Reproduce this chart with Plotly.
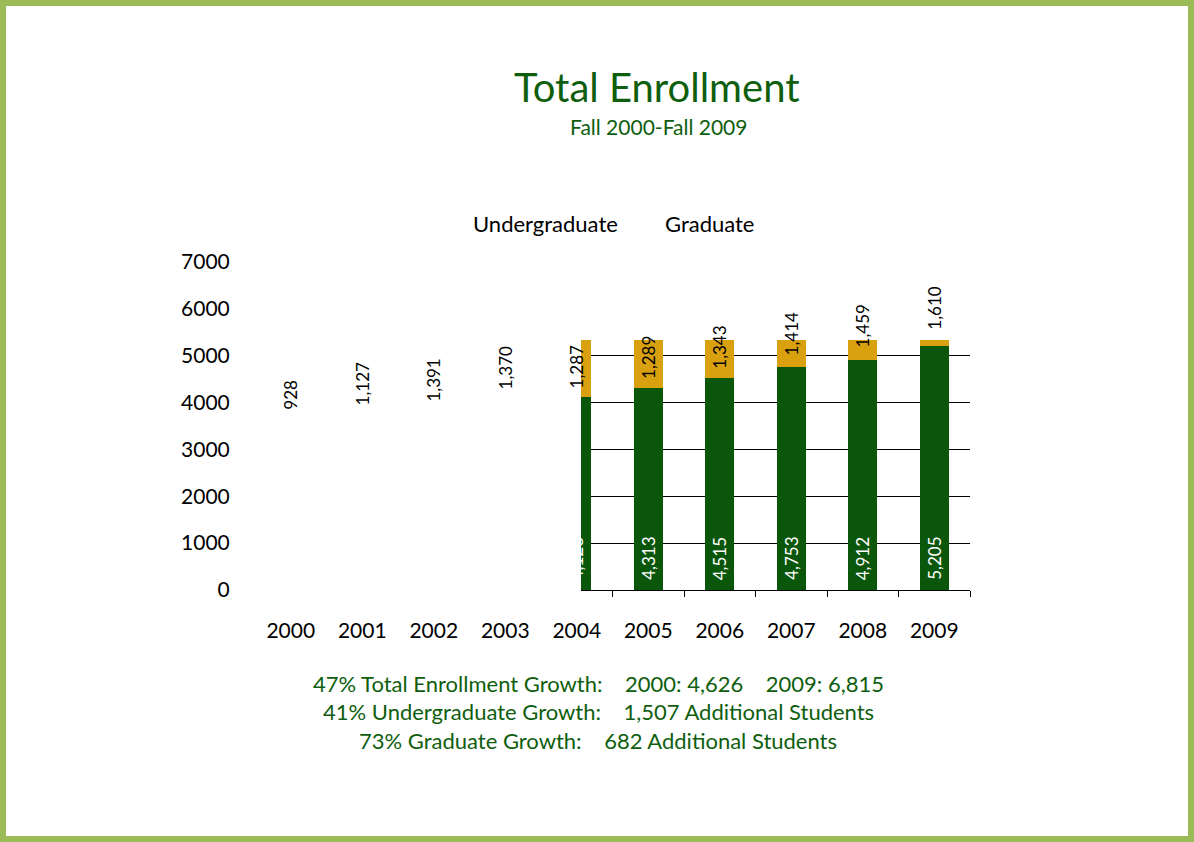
import plotly.graph_objects as go

years = [2000, 2001, 2002, 2003, 2004, 2005, 2006, 2007, 2008, 2009]
undergrad = [3698, 3830, 3790, 4050, 4123, 4313, 4515, 4753, 4912, 5205]
graduate = [928, 1127, 1391, 1370, 1287, 1289, 1343, 1414, 1459, 1610]
ytick_vals = [0, 1000, 2000, 3000, 4000, 5000, 6000, 7000]
title_text = "Total Enrollment"
subtitle_text = "Fall 2000-Fall 2009"
legend_names = ["Undergraduate", "Graduate"]
footer_lines = [
    "47% Total Enrollment Growth:    2000: 4,626    2009: 6,815",
    "41% Undergraduate Growth:    1,507 Additional Students",
    "73% Graduate Growth:    682 Additional Students",
]

GREEN = "#0A560A"
GOLD = "#D9A010"
TEXT_GREEN = "#0E5E0E"
FONT = "Lato"

W, H = 1194, 842
PL, PR, PT, PB = 255, 970, 262, 590  # main plot area in pixels
CLIP_L, CLIP_T = 581, 340            # visible (clipped) chart region
ymax = 7000
xr = [years[0] - 0.5, years[-1] + 0.5]
px_per_year = (PR - PL) / (xr[1] - xr[0])
px_per_unit = (PB - PT) / ymax

x2_dom0 = (CLIP_L - PL) / (PR - PL)
x2_range = [xr[0] + (CLIP_L - PL) / px_per_year, xr[1]]
y2_dom1 = (PB - CLIP_T) / (PB - PT)
y2_range = [0, (PB - CLIP_T) / px_per_unit]

fig = go.Figure()
fig.add_trace(go.Bar(x=years, y=undergrad, name=legend_names[0], marker_color=GREEN,
                     marker_line_width=0, width=0.4, xaxis="x2", yaxis="y2"))
fig.add_trace(go.Bar(x=years, y=graduate, name=legend_names[1], marker_color=GOLD,
                     marker_line_width=0, width=0.4, xaxis="x2", yaxis="y2"))

annotations = []
for yr, u, g in zip(years, undergrad, graduate):
    annotations.append(dict(x=yr, y=0, xref="x", yref="y", text=f"{u:,}", textangle=-90,
                            showarrow=False, xanchor="center", yanchor="bottom", yshift=8,
                            font=dict(family=FONT, size=17, color="white")))
    annotations.append(dict(x=yr, y=u + g / 2, xref="x", yref="y", text=f"{g:,}", textangle=-90,
                            showarrow=False, xanchor="center", yanchor="middle",
                            font=dict(family=FONT, size=17, color="black")))

def px_x(p):
    return (p - PL) / (PR - PL)

def px_y(p):
    return (PB - p) / (PB - PT)

def paper_text(xp, yp, text, size, color):
    return dict(x=px_x(xp), y=px_y(yp), xref="paper", yref="paper", text=text,
                showarrow=False, xanchor="center", yanchor="middle",
                font=dict(family=FONT, size=size, color=color))

annotations.append(paper_text(657, 87, title_text, 40, TEXT_GREEN))
annotations.append(paper_text(658, 126, subtitle_text, 21, TEXT_GREEN))
annotations.append(paper_text(545, 224, legend_names[0], 22, "black"))
annotations.append(paper_text(709, 224, legend_names[1], 22, "black"))
for i, line in enumerate(footer_lines):
    annotations.append(paper_text(598, 683 + 28.5 * i, line, 22, TEXT_GREEN))

bw = 6
shapes = [dict(type="rect", xref="paper", yref="paper",
               x0=px_x(bw / 2), x1=px_x(W - bw / 2), y0=px_y(H - bw / 2), y1=px_y(bw / 2),
               line=dict(color="#9BBB59", width=bw), fillcolor="rgba(0,0,0,0)", layer="below")]

fig.update_layout(
    width=W, height=H,
    margin=dict(l=PL, r=W - PR, t=PT, b=H - PB, pad=0),
    paper_bgcolor="white", plot_bgcolor="rgba(0,0,0,0)",
    barmode="stack", showlegend=False,
    font=dict(family=FONT, size=21, color="black"),
    xaxis=dict(range=xr, tickvals=years, ticktext=[str(y) for y in years], showgrid=False,
               zeroline=False, showline=False, ticks="outside", ticklen=22,
               tickcolor="rgba(0,0,0,0)", tickfont=dict(family=FONT, size=21, color="black")),
    yaxis=dict(range=[0, ymax], tickvals=ytick_vals, showgrid=False, zeroline=False,
               showline=False, ticks="outside", ticklen=20, tickcolor="rgba(0,0,0,0)",
               tickfont=dict(family=FONT, size=21, color="black")),
    xaxis2=dict(domain=[x2_dom0, 1], range=x2_range, anchor="y2",
                tickvals=[y + 0.5 for y in years[4:]], showticklabels=False,
                ticks="outside", ticklen=6, tickcolor="black", tickwidth=1,
                showline=True, linecolor="black", linewidth=1, showgrid=False, zeroline=False),
    yaxis2=dict(domain=[0, y2_dom1], range=y2_range, anchor="x2", dtick=1000, tick0=0,
                showticklabels=False, showgrid=True, gridcolor="black", gridwidth=1,
                zeroline=False, showline=False),
    annotations=annotations, shapes=shapes,
)

fig.write_html("out.html")
